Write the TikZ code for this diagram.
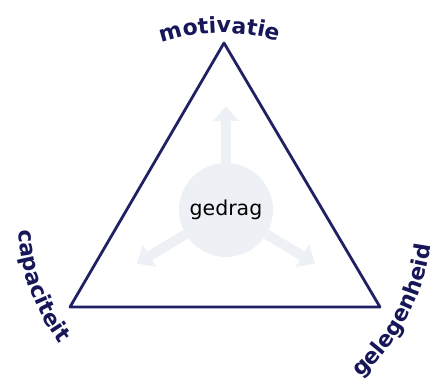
\documentclass[tikz,border=0pt]{standalone}
\usepackage{fontspec}
\setmainfont{DejaVu Sans}
\usepackage{xcolor}
\definecolor{trinavy}{RGB}{32,32,100}
\definecolor{lblnavy}{RGB}{22,22,88}
\definecolor{gedraggray}{RGB}{237,240,245}
\usepackage{tikz}
\usetikzlibrary{arrows.meta, positioning, calc, decorations.text}
\newcommand{\lblfont}{\bfseries\fontsize{22}{22}\selectfont}

\begin{document}
\begin{tikzpicture}[
  x=1pt, y=1pt,
  side/.style={draw=trinavy, line width=2.8pt, line join=round},
  core/.style={circle, fill=gedraggray, minimum size=94pt, inner sep=0pt,
    font=\fontsize{20.5}{20.5}\selectfont, text=black},
  push/.style={draw=gedraggray, line width=10pt,
    -{Triangle[width=25pt, length=15pt]}},
  lbl/.style={decorate, decoration={text along path, text align=center,
    text color=lblnavy, text={|\lblfont|#1}}}
]
  \useasboundingbox (0,0) rectangle (437,389);
  % triangle
  \coordinate (top) at (224,346);
  \coordinate (left) at (70,82);
  \coordinate (right) at (380,82);
  \draw[side] (top) -- (left) -- (right) -- cycle;
  % centre of the labels
  \coordinate (mid) at (223,169);
  % gedrag
  \node[core] (gedrag) at (226,179) {gedrag};
  \coordinate (pushup) at ($(gedrag)+(90:104pt)$);
  \coordinate (pushleft) at ($(gedrag)+(211:104pt)$);
  \coordinate (pushright) at ($(gedrag)+(329:104pt)$);
  \draw[push] (gedrag) -- (pushup);
  \draw[push] (gedrag) -- (pushleft);
  \draw[push] (gedrag) -- (pushright);
  % labels
  \path[lbl=motivatie] ($(mid)+(113:187pt)$) arc[start angle=113, end angle=69, radius=187pt];
  \path[lbl=capaciteit] ($(mid)+(178:205pt)$) arc[start angle=178, end angle=222, radius=205pt];
  \path[lbl=gelegenheid] ($(mid)+(-57:209pt)$) arc[start angle=-57, end angle=1, radius=209pt];
\end{tikzpicture}
\end{document}
